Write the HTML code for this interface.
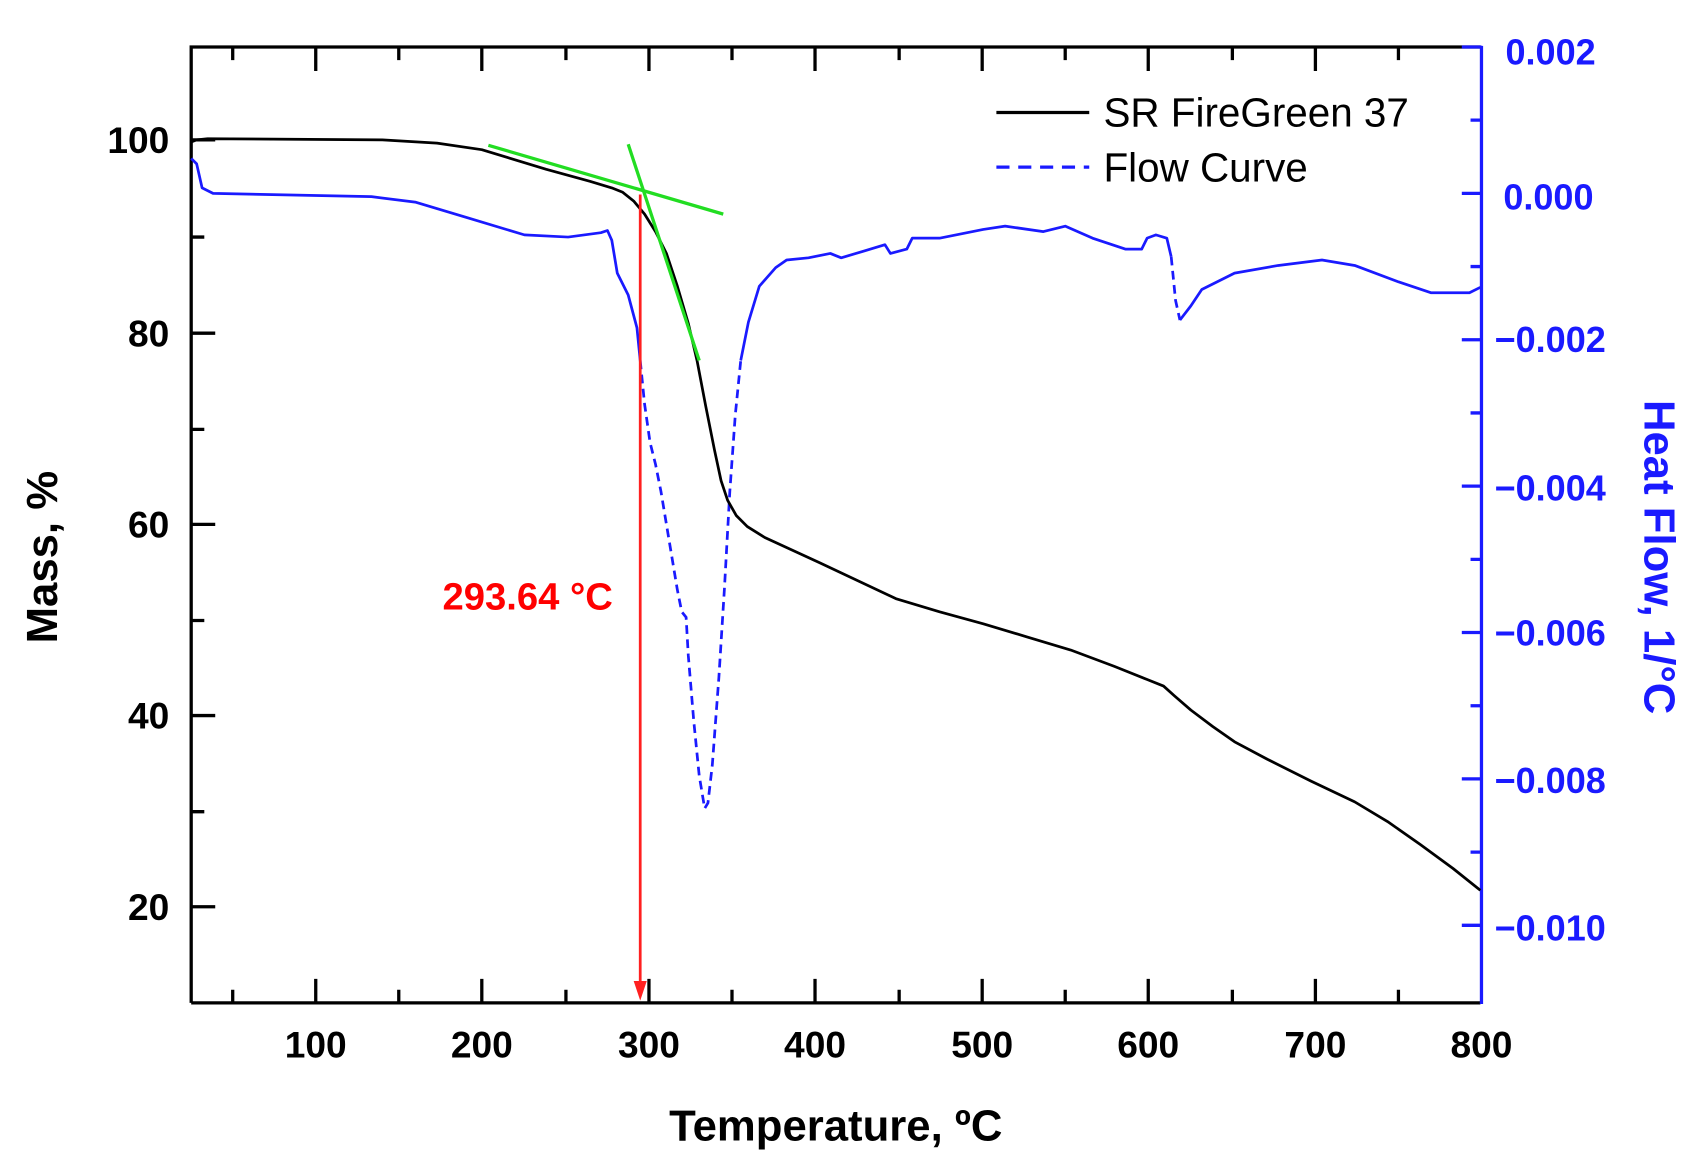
<!DOCTYPE html>
<html><head><meta charset="utf-8"><style>
html,body{margin:0;padding:0;background:#fff;}
svg{display:block;}
text{font-family:"Liberation Sans",Arial,sans-serif;}
</style></head><body>
<svg width="1705" height="1158" viewBox="0 0 1560.6 1060" preserveAspectRatio="none" xmlns="http://www.w3.org/2000/svg">
<rect width="1560.6" height="1060" fill="#fff"/>
<path d="M175 918 V43 H1355" fill="none" stroke="#000" stroke-width="3"/>
<line x1="175" y1="918" x2="1355" y2="918" stroke="#000" stroke-width="3"/>
<line x1="1356" y1="42" x2="1356" y2="919" stroke="#1a1aff" stroke-width="3"/>
<g stroke="#000" stroke-width="3">
<path d="M289 918v-22M441 918v-22M594 918v-22M746 918v-22M899 918v-22M1051 918v-22M1204 918v-22"/>
<path d="M213 918v-12M365 918v-12M518 918v-12M670 918v-12M823 918v-12M975 918v-12M1128 918v-12M1280 918v-12"/>
<path d="M289 43v22M441 43v22M594 43v22M746 43v22M899 43v22M1051 43v22M1204 43v22"/>
<path d="M213 43v12M365 43v12M518 43v12M670 43v12M823 43v12M975 43v12M1128 43v12M1280 43v12"/>
<path d="M175 128h22M175 305h22M175 480h22M175 655h22M175 830h22"/>
<path d="M175 217h12M175 393h12M175 568h12M175 743h12"/>
</g>
<g stroke="#1a1aff" stroke-width="3">
<path d="M1356 43h-18M1356 177h-18M1356 311h-18M1356 445h-18M1356 579h-18M1356 713h-18M1356 847h-18"/>
<path d="M1356 110h-10M1356 244h-10M1356 378h-10M1356 512h-10M1356 646h-10M1356 780h-10"/>
</g>
<g font-size="34" font-weight="bold" fill="#000" text-anchor="middle">
<text x="289" y="968">100</text><text x="441" y="968">200</text><text x="594" y="968">300</text>
<text x="746" y="968">400</text><text x="899" y="968">500</text><text x="1051" y="968">600</text>
<text x="1204" y="968">700</text><text x="1356" y="968">800</text>
</g>
<g font-size="34" font-weight="bold" fill="#000" text-anchor="end">
<text x="155" y="140">100</text><text x="155" y="317">80</text><text x="155" y="492">60</text>
<text x="155" y="667">40</text><text x="155" y="842">20</text>
</g>
<g font-size="33" font-weight="bold" fill="#1a1aff">
<text x="1378" y="59">0.002</text><text x="1376" y="192">0.000</text>
<text x="1368" y="322">−0.002</text><text x="1368" y="458">−0.004</text>
<text x="1368" y="591">−0.006</text><text x="1368" y="726">−0.008</text>
<text x="1368" y="861">−0.010</text>
</g>
<text x="765" y="1044" font-size="40" font-weight="bold" text-anchor="middle">Temperature, ºC</text>
<text transform="translate(52,510) rotate(-90)" font-size="40" font-weight="bold" text-anchor="middle">Mass, %</text>
<text transform="translate(1505,510) rotate(90)" font-size="40" font-weight="bold" text-anchor="middle" fill="#1a1aff">Heat Flow, 1/°C</text>
<polyline fill="none" stroke="#1a1aff" stroke-width="2.5" stroke-linejoin="round" points="175,145 180,150 185,172 195,177 340,180 380,185 430,200 480,215 520,217 550,213 556,211 560,220 565,250 575,270 583,300 586,330"/>
<polyline fill="none" stroke="#1a1aff" stroke-width="2.5" stroke-dasharray="8,5" points="586,330 590,370 595,405 600,425 605,450 610,480 615,510 620,540 624,560 628,565 630,600 635,660 640,710 645,740 648,735 652,700 658,620 663,540 668,450 673,380 678,330"/>
<polyline fill="none" stroke="#1a1aff" stroke-width="2.5" stroke-linejoin="round" points="678,330 685,295 695,262 710,245 720,238 740,236 760,232 770,236 790,230 810,224 815,232 830,228 835,218 860,218 900,210 920,207 955,212 975,207 1000,218 1030,228 1045,228 1050,218 1058,215 1068,218 1072,235"/>
<polyline fill="none" stroke="#1a1aff" stroke-width="2.5" stroke-dasharray="8,5" points="1072,235 1076,275 1080,293"/>
<polyline fill="none" stroke="#1a1aff" stroke-width="2.5" stroke-linejoin="round" points="1080,293 1090,280 1100,265 1130,250 1170,243 1210,238 1240,243 1280,258 1310,268 1345,268 1355,263"/>
<polyline fill="none" stroke="#000" stroke-width="2.5" stroke-linejoin="round" points="175,130 180,128 190,127 350,128 400,131 441,137 500,155 540,166 560,172 570,176 580,184 590,196 600,212 610,232 620,262 630,296 638,330 646,372 654,412 660,440 666,458 674,472 684,482 700,492 750,515 820,548 860,560 900,571 940,583 980,595 1020,610 1050,622 1065,628 1075,637 1090,650 1110,665 1130,679 1160,695 1200,715 1240,734 1270,752 1300,773 1330,795 1355,815"/>
<line x1="447" y1="133" x2="662" y2="196" stroke="#22dd22" stroke-width="3"/>
<line x1="575" y1="132" x2="640" y2="330" stroke="#22dd22" stroke-width="3"/>
<line x1="586" y1="178" x2="586" y2="905" stroke="#ff2020" stroke-width="2.5"/>
<path d="M580 898 L592 898 L586 916 Z" fill="#ff2020"/>
<text x="405" y="558" font-size="35" font-weight="bold" fill="#ff0000">293.64 °C</text>
<line x1="912" y1="103" x2="997" y2="103" stroke="#000" stroke-width="3"/>
<text x="1010" y="116" font-size="37">SR FireGreen 37</text>
<line x1="912" y1="153" x2="997" y2="153" stroke="#1a1aff" stroke-width="3" stroke-dasharray="12,8"/>
<text x="1010" y="166" font-size="37">Flow Curve</text>
</svg>
</body></html>
